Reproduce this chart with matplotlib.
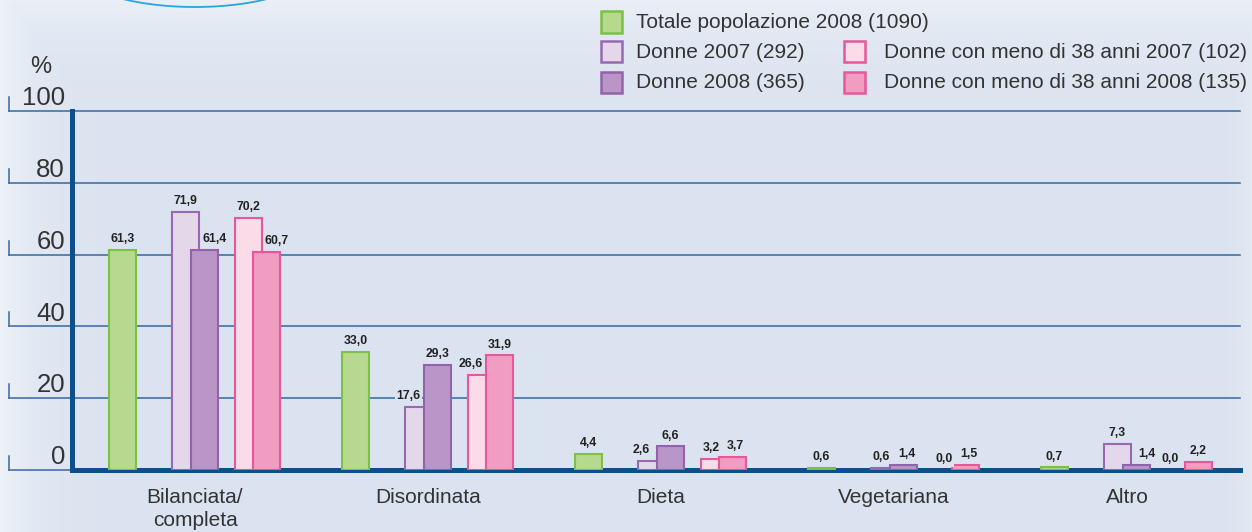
import numpy as np
import matplotlib
matplotlib.use('Agg')
import matplotlib.pyplot as plt
from matplotlib.patches import Rectangle, Ellipse

plt.rcParams['font.family'] = ['Liberation Sans', 'DejaVu Sans']

W, H = 1252, 532

categories = ['Bilanciata/\ncompleta', 'Disordinata', 'Dieta', 'Vegetariana', 'Altro']
totale_2008 = [61.3, 33.0, 4.4, 0.6, 0.7]
donne_2007 = [71.9, 17.6, 2.6, 0.6, 7.3]
donne_2008 = [61.4, 29.3, 6.6, 1.4, 1.4]
giovani_2007 = [70.2, 26.6, 3.2, 0.0, 0.0]
giovani_2008 = [60.7, 31.9, 3.7, 1.5, 2.2]
yticks = [0, 20, 40, 60, 80, 100]

series_labels = ['Totale popolazione 2008 (1090)', 'Donne 2007 (292)', 'Donne 2008 (365)',
                 'Donne con meno di 38 anni 2007 (102)', 'Donne con meno di 38 anni 2008 (135)']

# (fill, edge)
colors = [('#b6d98f', '#7cc142'), ('#e5d7ea', '#9a68b0'), ('#ba95c7', '#9462ab'),
          ('#fbdbe7', '#e9579b'), ('#f19dc2', '#e9579b')]

BG = np.array([0xdb, 0xe3, 0xf0]) / 255
AXBLUE = '#0d4f8b'
GRID = '#35699e'
TXT = '#333333'


def fx(px):
    return px / W


def fy(py):
    return 1 - py / H


fig = plt.figure(figsize=(W / 100, H / 100), dpi=100)
fig.patch.set_facecolor(BG)

# soft lighter edges like the printed page
bg = fig.add_axes([0, 0, 1, 1], zorder=-10)
xx, yy = np.meshgrid(np.arange(W), np.arange(H))
f = np.maximum.reduce([np.exp(-xx / 35.0), np.exp(-yy / 45.0) * 0.8, np.exp(-(W - xx) / 12.0) * 0.5])
img = BG[None, None, :] * (1 - 0.55 * f[..., None]) + 0.55 * f[..., None]
bg.imshow(img, extent=[0, 1, 0, 1], aspect='auto', interpolation='bilinear')
bg.axis('off')

fig.add_artist(Ellipse((fx(195), fy(-33)), 240 / W, 80 / H, transform=fig.transFigure,
                       fill=False, ec='#2aa3de', lw=1.3))

ax = fig.add_axes([fx(72), fy(470), (1240 - 72) / W, (470 - 111) / H])
ax.set_facecolor('none')
ax.set_xlim((72 - 195) / 233, (1240 - 195) / 233)
ax.set_ylim(0, 100)
for s in ['top', 'right']:
    ax.spines[s].set_visible(False)
for s in ['left', 'bottom']:
    ax.spines[s].set_color(AXBLUE)
    ax.spines[s].set_linewidth(3.6)
ax.spines['left'].set_zorder(9)
ax.spines['bottom'].set_zorder(1.8)
ax.set_xticks([])
ax.set_yticks([])

ytr = ax.get_yaxis_transform()
for y in yticks:
    ax.plot([-0.054, 1.0], [y, y], transform=ytr, clip_on=False, color=GRID, lw=1.1, zorder=0.5)
    ax.plot([-0.054, -0.054], [y, y + 3.9], transform=ytr, clip_on=False, color=GRID, lw=1.1)
    ax.text(-0.006, y + 1.6, str(y), transform=ytr, ha='right', va='baseline',
            fontsize=18.5, color=TXT)
ax.text(-0.0265, 110.6, '%', transform=ytr, ha='center', va='baseline', fontsize=17, color=TXT)

for i, c in enumerate(categories):
    ax.text(i, -5.0, c, ha='center', va='top', fontsize=15, color=TXT, linespacing=1.3)

series = [totale_2008, donne_2007, donne_2008, giovani_2007, giovani_2008]
offsets = np.array([-72.5, -9.5, 9.5, 53, 71.5]) / 233
bar_w = 27 / 233
x = np.arange(len(categories))


def nudges(a, b):
    # push the lower label of an overlapping pair away from the taller bar (px)
    if a - b > 1.5:
        return 0, 10
    if b - a > 1.5:
        return -10, 0
    return -3, 3


for k, vals in enumerate(series):
    fc, ec = colors[k]
    h = np.array(vals)
    ax.bar(x + offsets[k], h, bar_w, color=fc, edgecolor=ec,
           linewidth=np.where(h > 0, 1.5, 0), zorder=2 + k)

for k, vals in enumerate(series):
    for i, v in enumerate(vals):
        dx = 0
        if k in (1, 2):
            dx = nudges(donne_2007[i], donne_2008[i])[k - 1]
        elif k in (3, 4):
            dx = nudges(giovani_2007[i], giovani_2008[i])[k - 3]
        ax.annotate(f'{v:.1f}'.replace('.', ','), xy=(x[i] + offsets[k], v),
                    xytext=(dx * 0.72, 5.6), textcoords='offset points',
                    ha='center', va='baseline', fontsize=8.8, fontweight='bold',
                    color='#222222', zorder=10,
                    bbox=dict(fc=BG, ec='none', pad=1.0))

# legend, laid out by hand (first entry spills into the second column)
leg_pos = [(601, 22, 35), (601, 52, 35), (601, 82, 35), (844, 52, 40), (844, 82, 40)]
for k, (px, py, gap) in enumerate(leg_pos):
    fc, ec = colors[k]
    fig.add_artist(Rectangle((fx(px), fy(py + 10.5)), 21 / W, 21 / H, transform=fig.transFigure,
                             fc=fc, ec=ec, lw=1.8))
    fig.text(fx(px + gap), fy(py), series_labels[k], ha='left', va='center',
             fontsize=15, color=TXT)

fig.savefig('out.png', dpi=100, facecolor=fig.get_facecolor())
